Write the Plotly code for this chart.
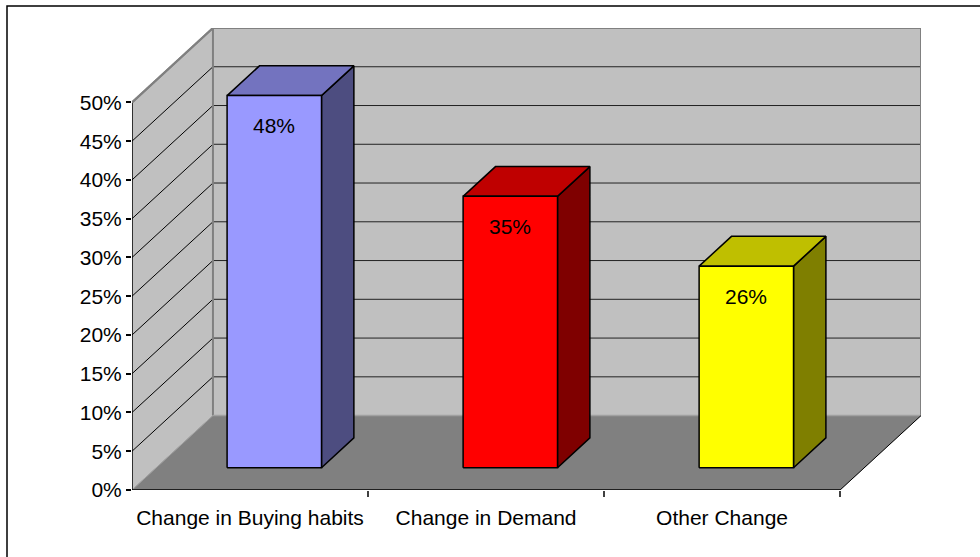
import plotly.graph_objects as go

# ---- data ----
categories = ["Change in Buying habits", "Change in Demand", "Other Change"]
values = [48, 35, 26]  # percent
value_labels = ["48%", "35%", "26%"]
y_tickvals = [0, 5, 10, 15, 20, 25, 30, 35, 40, 45, 50]
y_ticktext = ["0%", "5%", "10%", "15%", "20%", "25%", "30%", "35%", "40%", "45%", "50%"]

front_colors = ["#9999FF", "#FF0000", "#FFFF00"]
top_colors = ["#7373BF", "#BF0000", "#BFBF00"]
side_colors = ["#4D4D80", "#7F0000", "#7F7F00"]

# ---- oblique 3-D projection in data units ----
N = len(categories)
VMAX = 50            # top of the walls (percent)
DX = 0.343           # horizontal shift of the back plane, in category units
DY = 9.6             # vertical shift of the back plane, in percent units
BAR_W = 0.4          # bar width as fraction of a category (gap width 150%)
D0, D1 = 0.3, 0.7    # bar depth span (fraction of floor depth)


def P(c, v, d):
    """Project (category pos, value, depth fraction) onto the 2-D axes."""
    return c + d * DX, v + d * DY


def poly(points, fill, line_color="black", line_width=1.0):
    xs = [p[0] for p in points] + [points[0][0]]
    ys = [p[1] for p in points] + [points[0][1]]
    return go.Scatter(x=xs, y=ys, mode="lines", fill="toself", fillcolor=fill,
                      line=dict(color=line_color, width=line_width),
                      hoverinfo="skip", showlegend=False)


def seg(p, q, color="black", width=1.0):
    return go.Scatter(x=[p[0], q[0]], y=[p[1], q[1]], mode="lines",
                      line=dict(color=color, width=width),
                      hoverinfo="skip", showlegend=False)


traces = []

# walls and floor
traces.append(poly([P(0, 0, 0), P(0, VMAX, 0), P(0, VMAX, 1), P(0, 0, 1)], "#C0C0C0", "#C0C0C0", 0.5))
traces.append(poly([P(0, 0, 1), P(0, VMAX, 1), P(N, VMAX, 1), P(N, 0, 1)], "#C0C0C0", "#C0C0C0", 0.5))
traces.append(poly([P(0, 0, 0), P(N, 0, 0), P(N, 0, 1), P(0, 0, 1)], "#808080", "#808080", 0.5))

# gridlines on the side wall and back wall
for v in y_tickvals[1:-1]:
    traces.append(seg(P(0, v, 0), P(0, v, 1), "#000000", 1))
    traces.append(seg(P(0, v, 1), P(N, v, 1), "#222222", 1))

# wall edges
traces.append(seg(P(0, VMAX, 0), P(0, VMAX, 1), "#808080", 2))
traces.append(seg(P(0, VMAX, 1), P(N, VMAX, 1), "#808080", 2))
traces.append(seg(P(0, 0, 1), P(0, VMAX, 1), "#808080", 2))
traces.append(seg(P(N, 0, 1), P(N, VMAX, 1), "#808080", 2))
traces.append(seg(P(0, 0, 1), P(N, 0, 1), "#A0A0A0", 1.5))
traces.append(seg(P(0, 0, 0), P(0, 0, 1), "#A0A0A0", 1))

# bars
annotations = []
for i, v in enumerate(values):
    c = i + 0.5
    xl, xr = c - BAR_W / 2, c + BAR_W / 2
    front = [P(xl, 0, D0), P(xr, 0, D0), P(xr, v, D0), P(xl, v, D0)]
    top = [P(xl, v, D0), P(xr, v, D0), P(xr, v, D1), P(xl, v, D1)]
    side = [P(xr, 0, D0), P(xr, v, D0), P(xr, v, D1), P(xr, 0, D1)]
    traces.append(poly(side, side_colors[i], "black", 1.5))
    traces.append(poly(top, top_colors[i], "black", 1.5))
    traces.append(poly(front, front_colors[i], "black", 1.5))
    lx, ly = P(c, v - 3.9, D0)
    annotations.append(dict(x=lx, y=ly, text=value_labels[i], showarrow=False,
                            xanchor="center", yanchor="middle",
                            font=dict(size=21, color="black")))

# front axis lines and floor front edge
traces.append(seg(P(0, 0, 0), P(0, VMAX, 0), "black", 1.5))
traces.append(seg(P(0, VMAX, 0), P(0, VMAX, 1), "#808080", 2))
traces.append(seg(P(0, 0, 0), P(N, 0, 0), "black", 1.5))
traces.append(seg(P(N, 0, 0), P(N, 0, 1), "black", 1))

fig = go.Figure(traces)

L, R, T, B = 132, 59, 28, 67
W, H = 980, 557
pw, ph = W - L - R, H - T - B

fig.update_layout(
    width=W, height=H,
    margin=dict(l=L, r=R, t=T, b=B, pad=0),
    paper_bgcolor="white", plot_bgcolor="white",
    font=dict(family="Liberation Sans, Arial, sans-serif", size=21, color="black"),
    showlegend=False,
    annotations=annotations,
    xaxis=dict(range=[0, N + DX], showgrid=False, zeroline=False, showline=False,
               tickvals=[i + 0.5 for i in range(N)], ticktext=categories,
               ticks="outside", ticklen=9, tickcolor="rgba(0,0,0,0)",
               minor=dict(tickvals=list(range(1, N + 1)), ticks="outside",
                          ticklen=6, tickcolor="#404040", tickwidth=1.5),
               fixedrange=True),
    yaxis=dict(range=[0, VMAX + DY], showgrid=False, zeroline=False, showline=False,
               tickvals=y_tickvals, ticktext=y_ticktext,
               ticks="outside", ticklen=5, tickcolor="black", tickwidth=1.5,
               fixedrange=True),
    shapes=[dict(type="rect", xref="paper", yref="paper",
                 x0=(7 - L) / pw, x1=(W + 20 - L) / pw,
                 y0=-(B + 20) / ph, y1=(H - B - 6) / ph,
                 line=dict(color="black", width=1.5), fillcolor="rgba(0,0,0,0)",
                 layer="below")],
)

fig.write_html("out.html")
